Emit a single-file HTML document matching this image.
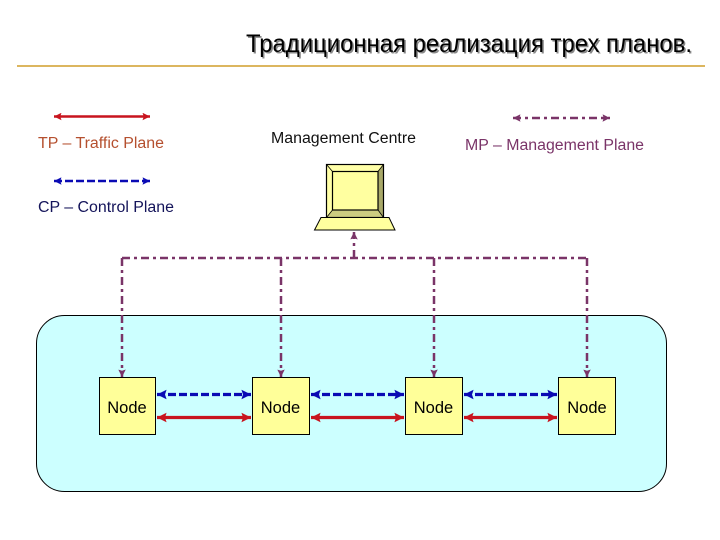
<!DOCTYPE html>
<html><head><meta charset="utf-8"><style>
html,body{margin:0;padding:0;background:#fff}
svg{display:block}
text{font-family:"Liberation Sans",sans-serif}
</style></head><body>
<svg width="720" height="540" viewBox="0 0 720 540" xmlns="http://www.w3.org/2000/svg">
<defs>
<marker id="r" viewBox="0 0 6 6" refX="6" refY="3" markerWidth="3" markerHeight="3" orient="auto-start-reverse"><path d="M0 0L6 3L0 6L1 3Z" fill="#c8141e"/></marker>
<marker id="b" viewBox="0 0 6 6" refX="6" refY="3" markerWidth="3" markerHeight="3" orient="auto-start-reverse"><path d="M0 0L6 3L0 6L1 3Z" fill="#0a0ab4"/></marker>
<marker id="m" viewBox="0 0 6 6" refX="6" refY="3" markerWidth="3" markerHeight="3" orient="auto-start-reverse"><path d="M0 0L6 3L0 6L1 3Z" fill="#7a3468"/></marker>
</defs>
<rect width="720" height="540" fill="#fff"/>
<text x="247.500" y="53.500" font-size="25" fill="#888" textLength="446" lengthAdjust="spacingAndGlyphs">Традиционная реализация трех планов.</text>
<text x="246" y="52" font-size="25" fill="#000" textLength="446" lengthAdjust="spacingAndGlyphs">Традиционная реализация трех планов.</text>
<rect x="17" y="65" width="688" height="2" fill="#dcb65f"/>

<line x1="54" y1="116.500" x2="150" y2="116.500" stroke="#c8141e" stroke-width="2.500" marker-start="url(#r)" marker-end="url(#r)"/>
<text x="38" y="148" font-size="15.500" fill="#b5502f" textLength="126" lengthAdjust="spacingAndGlyphs">TP – Traffic Plane</text>
<line x1="54" y1="181" x2="150" y2="181" stroke="#0a0ab4" stroke-width="2.500" stroke-dasharray="8 3" marker-start="url(#b)" marker-end="url(#b)"/>
<text x="38" y="212" font-size="15.500" fill="#14145a" textLength="136" lengthAdjust="spacingAndGlyphs">CP – Control Plane</text>
<text x="271" y="143" font-size="15.500" fill="#111" textLength="145" lengthAdjust="spacingAndGlyphs">Management Centre</text>
<line x1="513" y1="118" x2="610" y2="118" stroke="#7a3468" stroke-width="2.500" stroke-dasharray="8 4 3 4" marker-start="url(#m)" marker-end="url(#m)"/>
<text x="465" y="150" font-size="15.500" fill="#7a3468" textLength="179" lengthAdjust="spacingAndGlyphs">MP – Management Plane</text>

<rect x="326.500" y="164.500" width="57" height="53" fill="#ffffa8"/>
<path d="M378 171L383.500 164.500V217.500L378 210Z" fill="#a8a868"/>
<path d="M332.500 210H378L383.500 217.500H326.500Z" fill="#cccc80"/>
<rect x="326.500" y="164.500" width="57" height="53" fill="none" stroke="#000" stroke-width="1.200"/>
<rect x="332.500" y="171.500" width="45.500" height="38.500" fill="#ffffa0" stroke="#000" stroke-width="1.200"/>
<path d="M326.500 164.500L332.500 171.500M383.500 164.500L378 171.500M326.500 217.500L332.500 210M383.500 217.500L378 210" stroke="#000" stroke-width="0.800" fill="none"/>
<path d="M321 217.500H389L395 230H314.500Z" fill="#ffff9e" stroke="#000" stroke-width="1"/>

<rect x="36.500" y="315.500" width="630" height="176" rx="28" ry="28" fill="#ccffff" stroke="#000" stroke-width="1"/>

<g fill="none" stroke="#7a3468" stroke-width="2.500" stroke-dasharray="8 4 3 4">
<path d="M122 258H587"/>
<line x1="354" y1="258" x2="354" y2="232" marker-end="url(#m)"/>
<line x1="122" y1="258" x2="122" y2="377" marker-end="url(#m)"/>
<line x1="281" y1="258" x2="281" y2="377" marker-end="url(#m)"/>
<line x1="434" y1="258" x2="434" y2="377" marker-end="url(#m)"/>
<line x1="587" y1="258" x2="587" y2="377" marker-end="url(#m)"/>
</g>

<g fill="#ffff99" stroke="#000" stroke-width="1">
<rect x="99.500" y="377.500" width="56" height="57"/>
<rect x="252.500" y="377.500" width="57" height="57"/>
<rect x="405.500" y="377.500" width="57" height="57"/>
<rect x="558.500" y="377.500" width="57" height="57"/>
</g>
<g font-size="16.500" fill="#000" text-anchor="middle">
<text x="127" y="413">Node</text>
<text x="280.500" y="413">Node</text>
<text x="433.500" y="413">Node</text>
<text x="587" y="413">Node</text>
</g>

<g stroke="#0a0ab4" stroke-width="3.200" stroke-dasharray="8 3">
<line x1="157" y1="394.500" x2="251" y2="394.500" marker-start="url(#b)" marker-end="url(#b)"/>
<line x1="311" y1="394.500" x2="404" y2="394.500" marker-start="url(#b)" marker-end="url(#b)"/>
<line x1="464" y1="394.500" x2="557" y2="394.500" marker-start="url(#b)" marker-end="url(#b)"/>
</g>
<g stroke="#c8141e" stroke-width="3.200">
<line x1="157" y1="417.500" x2="251" y2="417.500" marker-start="url(#r)" marker-end="url(#r)"/>
<line x1="311" y1="417.500" x2="404" y2="417.500" marker-start="url(#r)" marker-end="url(#r)"/>
<line x1="464" y1="417.500" x2="557" y2="417.500" marker-start="url(#r)" marker-end="url(#r)"/>
</g>
</svg>
</body></html>
